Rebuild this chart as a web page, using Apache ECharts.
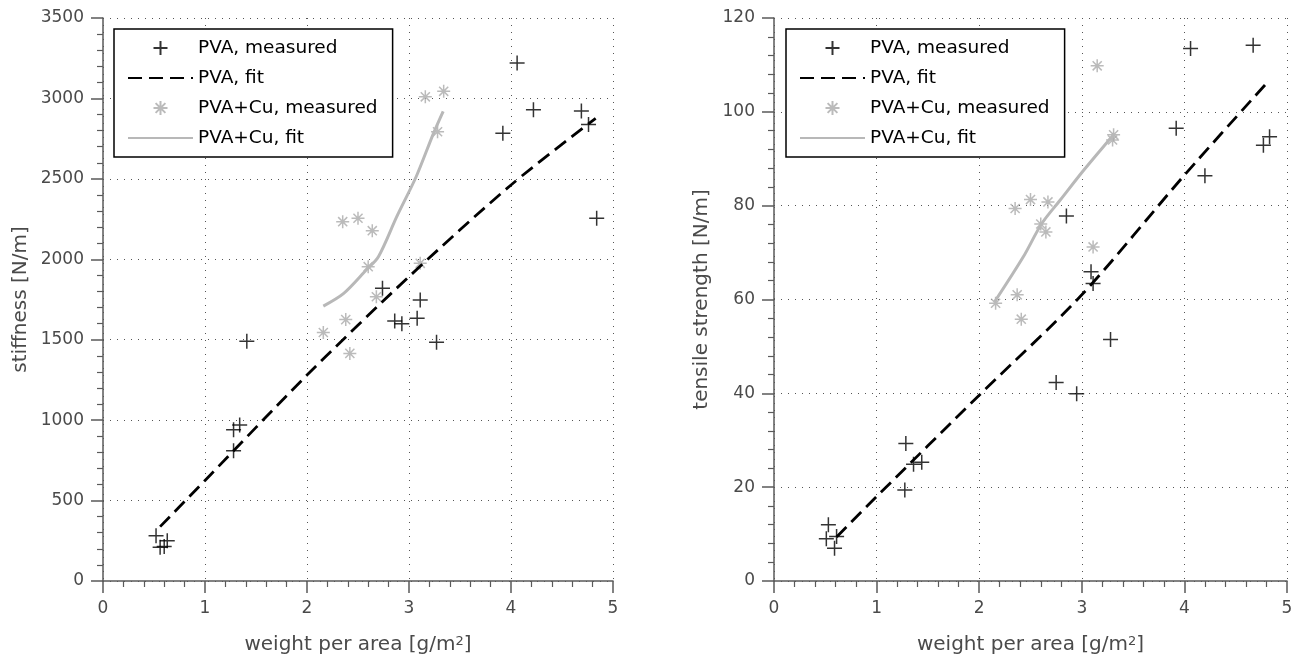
<!DOCTYPE html>
<html>
<head>
<meta charset="utf-8">
<script src="https://cdn.jsdelivr.net/npm/echarts@6/dist/echarts.min.js"></script>
<style>
html,body{margin:0;padding:0;background:#fff;}
#chart{width:1301px;height:660px;}
</style>
</head>
<body>
<div id="chart"></div>
<script>
// ---- data ----
const seriesNames = ['PVA, measured', 'PVA, fit', 'PVA+Cu, measured', 'PVA+Cu, fit'];
const xTicks = [0, 1, 2, 3, 4, 5];

// stiffness [N/m]
const pvaStiffness = [
  [0.52, 282], [0.56, 210], [0.60, 215], [0.63, 250],
  [1.28, 940], [1.34, 970], [1.28, 810], [1.41, 1490],
  [2.74, 1820], [2.86, 1616], [2.93, 1600], [3.08, 1633], [3.11, 1747], [3.27, 1484],
  [3.92, 2783], [4.06, 3220], [4.22, 2930], [4.69, 2922], [4.76, 2838], [4.84, 2255]
];
const pvaStiffnessFit = [[0.56, 338], [1.0, 625], [2.0, 1280], [3.0, 1892], [4.0, 2462], [4.83, 2876]];
const cuStiffness = [
  [2.16, 1545], [2.35, 2234], [2.38, 1625], [2.42, 1415], [2.50, 2255], [2.60, 1954],
  [2.64, 2178], [2.68, 1767], [3.11, 1975], [3.16, 3010], [3.28, 2793], [3.34, 3044]
];
const cuStiffnessFit = [[2.16, 1709], [2.36, 1788], [2.58, 1933], [2.70, 2016], [2.88, 2265], [3.07, 2513], [3.24, 2783], [3.335, 2920]];

// tensile strength [N/m]
const pvaStrength = [
  [0.53, 12.0], [0.51, 9.0], [0.59, 7.0], [0.61, 9.5],
  [1.285, 29.3], [1.275, 19.4], [1.36, 24.9], [1.44, 25.3],
  [2.75, 42.3], [2.85, 77.8], [2.95, 39.9], [3.09, 65.9], [3.11, 63.4], [3.28, 51.5],
  [3.92, 96.5], [4.06, 113.5], [4.20, 86.4], [4.67, 114.2], [4.77, 92.9], [4.83, 94.7]
];
const pvaStrengthFit = [[0.61, 9.4], [1.0, 18.0], [2.0, 39.6], [3.0, 61.0], [4.0, 86.5], [4.83, 106.8]];
const cuStrength = [
  [2.16, 59.2], [2.35, 79.4], [2.37, 61.0], [2.41, 55.8], [2.50, 81.3], [2.60, 76.1],
  [2.65, 74.4], [2.67, 80.8], [3.11, 71.2], [3.15, 109.8], [3.30, 94.0], [3.31, 95.1]
];
const cuStrengthFit = [[2.15, 59.5], [2.43, 69.1], [2.61, 76.2], [2.79, 81.2], [3.02, 87.6], [3.32, 95.4]];

// ---- styles ----
const FONT = 'DejaVu Sans';
const plusPath = 'path://M0,-10L0,10M-10,0L10,0';
const starPath = 'path://M0,-10L0,10M-10,0L10,0M-7,-7L7,7M-7,7L7,-7';
const axisGray = '#5a5a5a';
const textGray = '#4a4a4a';

function plainNum(v) { return String(v); }

function xAxisCfg(gi) {
  return {
    type: 'value', gridIndex: gi, min: 0, max: 5, interval: 1,
    axisLine: { show: true, onZero: false, lineStyle: { color: axisGray, width: 1.5 } },
    axisTick: { show: true, length: 12, lineStyle: { color: axisGray, width: 1.5 } },
    minorTick: { show: true, splitNumber: 5, length: 6, lineStyle: { color: axisGray, width: 1.2 } },
    splitLine: { show: true, lineStyle: { color: '#555', width: 1, type: [1, 6] } },
    axisLabel: { margin: 19, fontSize: 17, color: textGray, fontFamily: FONT, formatter: plainNum },
    name: 'weight per area [g/m{sup|2}]',
    nameLocation: 'middle', nameGap: 54,
    nameTextStyle: { fontSize: 20, color: textGray, fontFamily: FONT,
      rich: { sup: { fontSize: 13, color: textGray, fontFamily: FONT, verticalAlign: 'top' } } }
  };
}
function yAxisCfg(gi, max, interval, name, gap) {
  return {
    type: 'value', gridIndex: gi, min: 0, max: max, interval: interval,
    axisLine: { show: true, onZero: false, lineStyle: { color: axisGray, width: 1.5 } },
    axisTick: { show: true, length: 12, lineStyle: { color: axisGray, width: 1.5 } },
    minorTick: { show: true, splitNumber: 5, length: 6, lineStyle: { color: axisGray, width: 1.2 } },
    splitLine: { show: true, lineStyle: { color: '#555', width: 1, type: [1, 6] } },
    axisLabel: { margin: 19, fontSize: 17, color: textGray, fontFamily: FONT, formatter: plainNum },
    name: name, nameLocation: 'middle', nameGap: gap,
    nameTextStyle: { fontSize: 20, color: textGray, fontFamily: FONT }
  };
}
function seriesFor(gi, meas, fit, cuMeas, cuFit) {
  return [
    { type: 'scatter', name: seriesNames[0], xAxisIndex: gi, yAxisIndex: gi, data: meas,
      symbol: plusPath, symbolSize: 15,
      itemStyle: { color: 'rgba(0,0,0,0)', borderColor: '#000', borderWidth: 1.5 }, z: 3 },
    { type: 'line', name: seriesNames[1], xAxisIndex: gi, yAxisIndex: gi, data: fit,
      symbol: 'none', smooth: 0.3,
      lineStyle: { color: '#000', width: 2.8, type: [14, 7] },
      itemStyle: { color: '#000', opacity: 0 }, z: 4 },
    { type: 'scatter', name: seriesNames[2], xAxisIndex: gi, yAxisIndex: gi, data: cuMeas,
      symbol: starPath, symbolSize: 13,
      itemStyle: { color: 'rgba(0,0,0,0)', borderColor: '#aaaaaa', borderWidth: 1.5 }, z: 3 },
    { type: 'line', name: seriesNames[3], xAxisIndex: gi, yAxisIndex: gi, data: cuFit,
      symbol: 'none', smooth: 0.3,
      lineStyle: { color: '#b8b8b8', width: 3 },
      itemStyle: { color: '#b8b8b8', opacity: 0 }, z: 4 }
  ];
}
function legendCfg(left) {
  return {
    orient: 'vertical', left: left, top: 29,
    data: [
      { name: seriesNames[0] },
      { name: seriesNames[1], itemStyle: { opacity: 0 } },
      { name: seriesNames[2] },
      { name: seriesNames[3], itemStyle: { opacity: 0 } }
    ],
    selectedMode: false,
    itemWidth: 65, itemHeight: 14, itemGap: 8,
    padding: [8, 15, 8, 13],
    borderColor: '#000', borderWidth: 1.5, backgroundColor: '#fff',
    textStyle: { fontSize: 18.5, color: '#000', fontFamily: FONT, lineHeight: 22 }
  };
}

const chart = echarts.init(document.getElementById('chart'), null, { renderer: 'canvas' });
chart.setOption({
  animation: false,
  backgroundColor: '#fff',
  textStyle: { fontFamily: FONT },
  grid: [
    { left: 103, top: 18, width: 510, height: 563 },
    { left: 774, top: 18, width: 513, height: 563 }
  ],
  xAxis: [xAxisCfg(0), xAxisCfg(1)],
  yAxis: [
    yAxisCfg(0, 3500, 500, 'stiffness [N/m]', 72),
    yAxisCfg(1, 120, 20, 'tensile strength [N/m]', 62)
  ],
  legend: [legendCfg(114), legendCfg(786)],
  series: [].concat(
    seriesFor(0, pvaStiffness, pvaStiffnessFit, cuStiffness, cuStiffnessFit),
    seriesFor(1, pvaStrength, pvaStrengthFit, cuStrength, cuStrengthFit)
  )
});
</script>
</body>
</html>
